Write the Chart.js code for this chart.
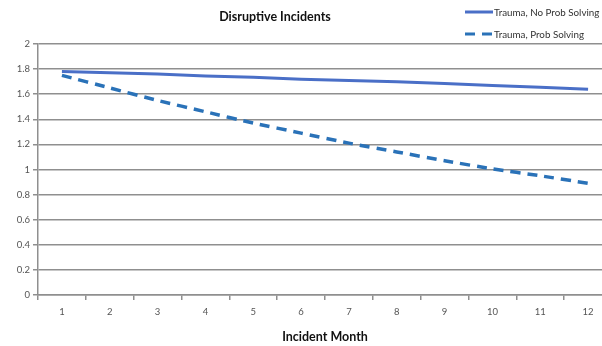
<!DOCTYPE html>
<html>
<head>
<meta charset="utf-8">
<script src="https://cdn.jsdelivr.net/npm/chart.js@4/dist/chart.umd.min.js"></script>
<style>
  html, body { margin: 0; padding: 0; background: #fff; overflow: hidden; }
  #wrap { width: 602px; height: 346px; overflow: hidden; }
</style>
</head>
<body>
<div id="wrap"><canvas id="c" width="614" height="346"></canvas></div>
<script>
// Monthly mean disruptive incidents
const months = ['1', '2', '3', '4', '5', '6', '7', '8', '9', '10', '11', '12'];
const noProbSolving = [1.78, 1.77, 1.76, 1.745, 1.735, 1.72, 1.71, 1.70, 1.685, 1.67, 1.655, 1.64];
const probSolving = [1.75, 1.65, 1.55, 1.46, 1.37, 1.29, 1.21, 1.14, 1.07, 1.005, 0.95, 0.89];
const yTicks = [0, 0.2, 0.4, 0.6, 0.8, 1, 1.2, 1.4, 1.6, 1.8, 2];

const FONT = 'Lato, "Open Sans", sans-serif';
const GRID = '#8f8f8f';

// Title and two-row legend drawn above the plot
const headerPlugin = {
  id: 'header',
  afterDraw(chart) {
    const ctx = chart.ctx;
    ctx.save();
    ctx.fillStyle = '#111';
    ctx.font = 'bold 12.5px ' + FONT;
    ctx.textAlign = 'center';
    ctx.textBaseline = 'middle';
    ctx.fillText('Disruptive Incidents', 275, 17);

    ctx.font = '9.8px ' + FONT;
    ctx.textAlign = 'left';
    chart.data.datasets.forEach((ds, i) => {
      const y = 12 + i * 22;
      ctx.strokeStyle = ds.borderColor;
      ctx.lineWidth = 3;
      ctx.setLineDash(ds.borderDash || []);
      ctx.beginPath();
      ctx.moveTo(465, y);
      ctx.lineTo(493, y);
      ctx.stroke();
      ctx.setLineDash([]);
      ctx.fillStyle = '#333';
      ctx.fillText(ds.label, 494, y + 1);
    });
    ctx.restore();
  }
};

new Chart(document.getElementById('c'), {
  type: 'line',
  data: {
    labels: months,
    datasets: [
      {
        label: 'Trauma, No Prob Solving',
        data: noProbSolving,
        borderColor: '#4a6fc7',
        borderWidth: 3,
        pointRadius: 0,
        tension: 0,
        fill: false
      },
      {
        label: 'Trauma, Prob Solving',
        data: probSolving,
        borderColor: '#2a72b8',
        borderWidth: 3.5,
        borderDash: [10, 7],
        pointRadius: 0,
        tension: 0.2,
        fill: false
      }
    ]
  },
  options: {
    responsive: false,
    animation: false,
    devicePixelRatio: 1,
    layout: { padding: { top: 44, right: 2, left: 0, bottom: 0 } },
    plugins: {
      legend: { display: false },
      title: { display: false },
      tooltip: { enabled: false }
    },
    scales: {
      x: {
        type: 'category',
        offset: true,
        grid: {
          display: true,
          drawOnChartArea: false,
          drawTicks: true,
          tickLength: 5,
          offset: true,
          color: GRID,
          lineWidth: 1.5
        },
        border: { display: true, color: GRID, width: 1.5 },
        ticks: {
          color: '#555',
          font: { family: FONT, size: 9.5 },
          padding: 6,
          maxRotation: 0,
          autoSkip: false
        },
        title: {
          display: true,
          text: 'Incident Month',
          color: '#111',
          font: { family: FONT, size: 12.5, weight: 'bold' },
          padding: { top: 10, bottom: 2 }
        },
        afterFit(scale) { scale.height = 51; }
      },
      y: {
        min: 0,
        max: 2,
        afterBuildTicks(scale) {
          scale.ticks = yTicks.map(v => ({ value: v }));
        },
        grid: {
          color: GRID,
          lineWidth: 1.5,
          drawTicks: true,
          tickLength: 5
        },
        border: { display: true, color: GRID, width: 1.5 },
        ticks: {
          color: '#555',
          font: { family: FONT, size: 9.5 },
          padding: 3,
          callback: v => String(Math.round(v * 10) / 10)
        },
        afterFit(scale) { scale.width = 38; }
      }
    }
  },
  plugins: [headerPlugin]
});
</script>
</body>
</html>
